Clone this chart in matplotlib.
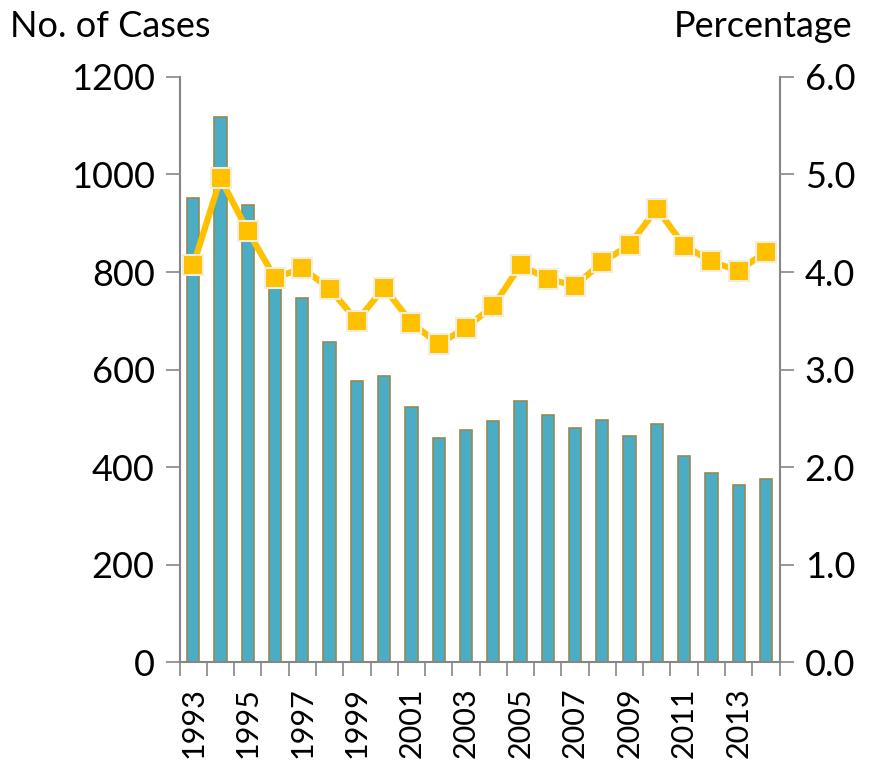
import matplotlib
matplotlib.use('Agg')
import matplotlib.pyplot as plt
import numpy as np

years = list(range(1993, 2015))
cases = [952, 1118, 937, 770, 747, 656, 576, 587, 523, 460, 476,
         494, 535, 507, 480, 496, 464, 488, 423, 388, 363, 376]
pct = [4.07, 4.96, 4.42, 3.94, 4.04, 3.83, 3.50, 3.84, 3.48, 3.26, 3.43,
       3.65, 4.07, 3.93, 3.86, 4.10, 4.28, 4.65, 4.27, 4.11, 4.01, 4.21]

plt.rcParams['font.family'] = ['Lato', 'DejaVu Sans']
grey = '#868686'

fig = plt.figure(figsize=(8.72, 7.62), dpi=100)
ax = fig.add_axes([0.206, 0.131, 0.688, 0.768])
x = np.arange(len(years))

ax.bar(x, cases, width=0.45, color='#4BACC6', edgecolor='#948A54', linewidth=1.2, zorder=2)
ax.set_xlim(-0.5, len(years) - 0.5)
ax.set_ylim(0, 1200)
ax.set_yticks(range(0, 1201, 200))
ax.tick_params(axis='y', labelsize=26, length=10, color=grey, width=1.2, pad=8)

ax.set_xticks(x[::2])
ax.set_xticklabels([str(y) for y in years[::2]], rotation=90, fontsize=22)
ax.set_xticks(np.arange(-0.5, len(years), 1), minor=True)
ax.tick_params(axis='x', which='major', length=0, pad=18)
ax.tick_params(axis='x', which='minor', length=10, color=grey, width=1.2)

for s in ['top', 'right']:
    ax.spines[s].set_visible(False)
for s in ['left', 'bottom']:
    ax.spines[s].set_color(grey)
    ax.spines[s].set_linewidth(1.5)

ax2 = ax.twinx()
ax2.plot(x, pct, color='#FFC000', linewidth=4.5, marker='s', markersize=15,
         markerfacecolor='#FFC000', markeredgecolor='#F2EEDC', markeredgewidth=1.5, zorder=3)
ax2.set_ylim(0, 6)
ax2.set_yticks(np.arange(0, 6.1, 1))
ax2.set_yticklabels(['%.1f' % v for v in np.arange(0, 6.1, 1)])
ax2.tick_params(axis='y', labelsize=26, length=10, color=grey, width=1.2, pad=8)
for s in ['top', 'left', 'bottom']:
    ax2.spines[s].set_visible(False)
ax2.spines['right'].set_color(grey)
ax2.spines['right'].set_linewidth(1.5)

fig.text(0.012, 0.965, 'No. of Cases', fontsize=26, ha='left', va='center')
fig.text(0.978, 0.965, 'Percentage', fontsize=26, ha='right', va='center')

fig.savefig('out.png', dpi=100)
